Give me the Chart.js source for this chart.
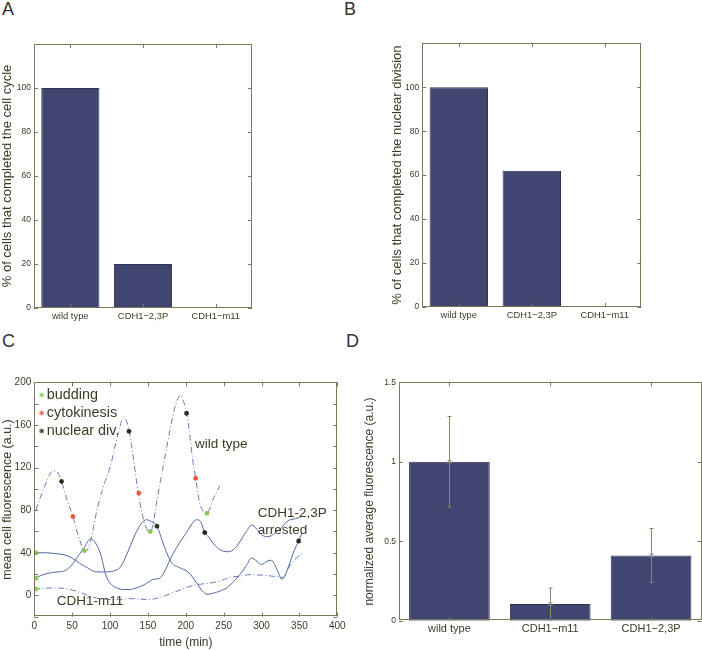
<!DOCTYPE html>
<html>
<head>
<meta charset="utf-8">
<script src="https://cdn.jsdelivr.net/npm/chart.js@4.4.0/dist/chart.umd.min.js"></script>
<style>
  html, body { margin: 0; padding: 0; background: #fff; }
  body { width: 702px; height: 650px; position: relative; overflow: hidden; font-family: "Liberation Sans", Arial, sans-serif; }
  canvas { position: absolute; }
  .panel { position: absolute; font-size: 18px; line-height: 1; color: #333; }
</style>
</head>
<body>
<div class="panel" style="left:2px;top:0px">A</div>
<div class="panel" style="left:344px;top:0px">B</div>
<div class="panel" style="left:2px;top:332px">C</div>
<div class="panel" style="left:346px;top:332px">D</div>
<canvas id="chartA" width="351" height="330" style="left:0;top:0"></canvas>
<canvas id="chartB" width="351" height="330" style="left:351px;top:0"></canvas>
<canvas id="chartC" width="351" height="320" style="left:0;top:330px"></canvas>
<canvas id="chartD" width="351" height="320" style="left:351px;top:330px"></canvas>
<script>
// ---- data ----
const groupsAB = ['wild type', 'CDH1\u22122,3P', 'CDH1\u2212m11'];
const completedCycle = [100, 20, 0];
const completedNuclear = [100, 62, 0];

const groupsD = ['wild type', 'CDH1\u2212m11', 'CDH1\u22122,3P'];
const fluorMean = [1.0, 0.105, 0.41];
const fluorErr = [0.285, 0.1, 0.17];

// panel C traces (time in min, fluorescence a.u.)
const wtTime = [2, 8, 14, 20, 25, 30, 36, 43, 51, 58, 63, 67, 71, 76, 82, 87, 94, 100, 106, 111, 115, 118, 121, 125, 130, 137, 143, 148, 152, 156, 161, 166, 172, 179, 185, 190, 193, 197, 201, 205, 209, 213, 218, 223, 228, 232, 236, 240, 245];
const wtFluor = [80, 92, 103, 113, 117, 116, 107, 90, 74, 56, 46, 41, 44, 56, 78, 92, 108, 120, 138, 153, 163, 167, 165, 155, 133, 97, 75, 63, 59, 64, 85, 105, 128, 155, 175, 185, 188, 182, 172, 152, 128, 110, 88, 79, 77, 82, 90, 96, 103];

const arrTime1 = [0, 15, 30, 40, 50, 60, 70, 82, 95, 105, 113, 120, 127, 135, 142, 148, 155, 162, 170, 181, 192, 203, 214, 222, 228, 236, 245, 254, 263, 272, 280, 287, 294, 300, 307, 313, 320, 327, 331, 337, 343, 349, 353];
const arrFluor1 = [40, 40, 39, 38, 35, 30, 26, 22, 22, 23, 26, 35, 47, 60, 68, 71, 69, 65, 49, 31, 26, 22, 12, 4, 1, 2, 4, 7, 13, 20, 28, 35, 32, 29, 32, 33, 25, 15, 19, 30, 42, 51, 58];

const arrTime2 = [0, 10, 20, 30, 40, 50, 58, 66, 74, 80, 87, 95, 102, 109, 118, 126, 135, 145, 157, 165, 170, 175, 180, 188, 195, 201, 208, 214, 219, 225, 230, 236, 245, 254, 261, 267, 272, 280, 287, 294, 300, 307, 313, 320, 327, 333, 338, 345, 353];
const arrFluor2 = [16, 19, 21, 22, 23, 29, 37, 45, 53, 50, 40, 18, 10, 7, 5.5, 5.5, 7, 10, 15, 16, 20, 27, 35, 45, 53, 59, 67, 71, 70, 59, 55, 49, 43, 41, 42, 46, 51, 60, 66, 62, 57, 55, 56, 60, 64, 69, 71, 72, 74];

const m11Time = [0, 10, 20, 30, 40, 50, 60, 70, 82, 95, 109, 126, 140, 150, 160, 170, 181, 192, 203, 214, 225, 236, 247, 258, 271, 285, 300, 315, 329, 335, 341, 348, 355];
const m11Fluor = [6, 6.5, 7, 7, 6.5, 5, 3, 0, -2.5, -3.5, -4, -3, -3.5, -4, -3, -1, 2, 5, 8, 10, 11, 12, 14, 17, 18, 19.5, 19, 18, 17, 25, 32, 36, 40];

const budTime = [2, 2, 2, 66, 153, 228];
const budFluor = [40, 16, 6, 42, 60, 77];
const cytoTime = [51, 138, 213];
const cytoFluor = [74, 96, 110];
const nucTime = [36, 125, 162, 201, 225, 349];
const nucFluor = [107, 154, 65, 171, 59, 51];

const notesC = [
  { text: 'wild type', t: 212, v: 142 },
  { text: 'CDH1-2,3P', t: 295, v: 77 },
  { text: 'arrested', t: 295, v: 61 },
  { text: 'CDH1-m11', t: 29.6, v: -5.6 }
];

// ---- styles ----
const FONT = "'Liberation Sans', Arial, sans-serif";
const textColor = '#3d3b25';
const boxColor = '#7b785c';
const barColor = '#414670';
const lineColor = '#5266a6';
const dashColor = '#6a7cb8';
const budColor = '#86cc55';
const cytoColor = '#e8553c';
const nucColor = '#2a2a1a';

Chart.defaults.font.family = FONT;
Chart.defaults.color = textColor;
Chart.defaults.animation = false;

const zip = (xs, ys) => xs.map((x, i) => ({ x, y: ys[i] }));
const noGrid = { display: false, drawTicks: false, tickLength: 0 };

// MATLAB style box with inward ticks on all four sides
const boxTicks = {
  id: 'boxTicks',
  afterDraw(chart) {
    const { ctx, chartArea: a, scales: { x, y } } = chart;
    ctx.save();
    ctx.strokeStyle = boxColor;
    ctx.lineWidth = 1;
    ctx.strokeRect(Math.round(a.left) + 0.5, Math.round(a.top) + 0.5,
      Math.round(a.right - a.left) - 1, Math.round(a.bottom - a.top) - 1);
    ctx.beginPath();
    x.ticks.forEach((t, i) => {
      const px = Math.round(x.getPixelForTick(i)) + 0.5;
      ctx.moveTo(px, a.bottom); ctx.lineTo(px, a.bottom - 4);
      ctx.moveTo(px, a.top); ctx.lineTo(px, a.top + 4);
    });
    y.ticks.forEach((t, i) => {
      const py = Math.round(y.getPixelForTick(i)) + 0.5;
      ctx.moveTo(a.left, py); ctx.lineTo(a.left + 4, py);
      ctx.moveTo(a.right, py); ctx.lineTo(a.right - 4, py);
    });
    ctx.stroke();
    ctx.restore();
  }
};

function barChart(id, labels, values, opts) {
  return new Chart(document.getElementById(id), {
    type: 'bar',
    data: {
      labels,
      datasets: [{
        data: values,
        backgroundColor: barColor,
        borderColor: '#30345a',
        borderWidth: 1,
        barPercentage: 0.8,
        categoryPercentage: 1.0
      }]
    },
    options: {
      responsive: false,
      layout: { padding: opts.padding },
      plugins: { legend: { display: false }, tooltip: { enabled: false } },
      scales: {
        x: {
          grid: noGrid,
          border: { display: false },
          ticks: { font: { size: opts.xFont }, padding: opts.xPad, color: textColor, maxRotation: 0 },
          afterFit: s => { s.height = opts.xHeight; }
        },
        y: {
          min: 0,
          max: opts.yMax,
          grid: noGrid,
          border: { display: false },
          ticks: {
            stepSize: opts.yStep,
            font: { size: opts.yFont },
            padding: 3,
            color: textColor,
            callback: opts.yLabel
          },
          title: {
            display: true,
            text: opts.yTitle,
            font: { size: opts.titleSize },
            color: textColor,
            padding: { top: 0, bottom: 0 }
          },
          afterFit: s => { s.width = opts.yWidth; }
        }
      }
    },
    plugins: opts.plugins
  });
}

barChart('chartA', groupsAB, completedCycle, {
  padding: { left: 0, right: 99, top: 44, bottom: 0 },
  xFont: 9.4, xPad: 3, xHeight: 22,
  yMax: 120, yStep: 20, yFont: 8.5,
  yLabel: v => (v <= 100 ? v : ''),
  yTitle: '% of cells that completed the cell cycle', titleSize: 13,
  yWidth: 34,
  plugins: [boxTicks]
});

barChart('chartB', groupsAB, completedNuclear, {
  padding: { left: 39, right: 60.7, top: 43.3, bottom: 0 },
  xFont: 9.4, xPad: 3, xHeight: 23,
  yMax: 120, yStep: 20, yFont: 8.5,
  yLabel: v => (v <= 100 ? v : ''),
  yTitle: '% of cells that completed the nuclear division', titleSize: 13,
  yWidth: 32.3,
  plugins: [boxTicks]
});

// error bars for panel D
const errorBars = {
  id: 'errorBars',
  afterDatasetsDraw(chart) {
    const { ctx, scales: { x, y } } = chart;
    ctx.save();
    ctx.strokeStyle = '#8a876a';
    ctx.lineWidth = 1;
    fluorMean.forEach((m, i) => {
      const px = Math.round(x.getPixelForValue(i)) + 0.5;
      const top = y.getPixelForValue(m + fluorErr[i]);
      const bot = y.getPixelForValue(Math.max(m - fluorErr[i], 0));
      const mid = y.getPixelForValue(m);
      ctx.beginPath();
      ctx.moveTo(px, top); ctx.lineTo(px, bot);
      ctx.moveTo(px - 2, top); ctx.lineTo(px + 2, top);
      ctx.moveTo(px - 2, bot); ctx.lineTo(px + 2, bot);
      ctx.moveTo(px - 2, mid - 2); ctx.lineTo(px + 2, mid + 2);
      ctx.moveTo(px - 2, mid + 2); ctx.lineTo(px + 2, mid - 2);
      ctx.stroke();
    });
    ctx.restore();
  }
};

barChart('chartD', groupsD, fluorMean, {
  padding: { left: 11.8, right: 0.5, top: 52.3, bottom: 0 },
  xFont: 11, xPad: 2, xHeight: 29.3,
  yMax: 1.5, yStep: 0.5, yFont: 8.5,
  yLabel: v => v,
  yTitle: 'normalized average fluorescence (a.u.)', titleSize: 12,
  yWidth: 36.2,
  plugins: [errorBars, boxTicks]
});

// legend and text notes for panel C
const legendItems = [
  { label: 'budding', color: budColor },
  { label: 'cytokinesis', color: cytoColor },
  { label: 'nuclear div.', color: nucColor }
];

const notesPlugin = {
  id: 'notesC',
  afterDraw(chart) {
    const { ctx, chartArea: a, scales: { x, y } } = chart;
    ctx.save();
    ctx.textBaseline = 'middle';
    ctx.fillStyle = textColor;
    ctx.font = '13.5px ' + FONT;
    notesC.forEach(n => {
      ctx.fillText(n.text, x.getPixelForValue(n.t), y.getPixelForValue(n.v));
    });
    ctx.font = '14.4px ' + FONT;
    legendItems.forEach((item, i) => {
      const yy = a.top + 12.7 + i * 18;
      ctx.strokeStyle = item.color;
      ctx.fillStyle = item.color;
      Chart.helpers.drawPoint(ctx, { pointStyle: 'star', radius: 2.5, borderWidth: 1.3, rotation: 0 }, a.left + 7.4, yy);
      ctx.fillStyle = textColor;
      ctx.fillText(item.label, a.left + 12.5, yy);
    });
    ctx.restore();
  }
};

const markerSet = (t, v, color) => ({
  type: 'scatter',
  data: zip(t, v),
  showLine: false,
  pointStyle: 'star',
  pointRadius: 2.5,
  pointBorderWidth: 1.3,
  pointBorderColor: color,
  pointBackgroundColor: color
});

const traceSet = (t, v, color, dash) => ({
  type: 'line',
  data: zip(t, v),
  borderColor: color,
  borderWidth: 1,
  borderDash: dash,
  pointRadius: 0,
  fill: false,
  cubicInterpolationMode: 'monotone'
});

new Chart(document.getElementById('chartC'), {
  type: 'line',
  data: {
    datasets: [
      markerSet(budTime, budFluor, budColor),
      markerSet(cytoTime, cytoFluor, cytoColor),
      markerSet(nucTime, nucFluor, nucColor),
      traceSet(wtTime, wtFluor, dashColor, [6, 2.5, 1, 2.5]),
      traceSet(arrTime1, arrFluor1, lineColor, []),
      traceSet(arrTime2, arrFluor2, lineColor, []),
      traceSet(m11Time, m11Fluor, dashColor, [6, 2.5, 1, 2.5])
    ]
  },
  options: {
    responsive: false,
    layout: { padding: { left: 0, right: 13.7, top: 52.3, bottom: 0 } },
    plugins: { legend: { display: false }, tooltip: { enabled: false } },
    scales: {
      x: {
        type: 'linear',
        min: 0,
        max: 400,
        grid: noGrid,
        border: { display: false },
        ticks: { stepSize: 50, font: { size: 10 }, padding: 4, color: textColor, maxRotation: 0 },
        title: {
          display: true,
          text: 'time (min)',
          font: { size: 12 },
          color: textColor,
          padding: { top: 0, bottom: 0 }
        },
        afterFit: s => { s.height = 33.3; }
      },
      y: {
        min: -20,
        max: 200,
        grid: noGrid,
        border: { display: false },
        ticks: {
          stepSize: 20,
          font: { size: 10 },
          padding: 3,
          color: textColor,
          callback: v => (v >= 0 && v % 40 === 0 ? v : '')
        },
        title: {
          display: true,
          text: 'mean cell fluorescence (a.u.)',
          font: { size: 12.5 },
          color: textColor,
          padding: { top: 0, bottom: 0 }
        },
        afterFit: s => { s.width = 34.3; }
      }
    }
  },
  plugins: [boxTicks, notesPlugin]
});
</script>
</body>
</html>
